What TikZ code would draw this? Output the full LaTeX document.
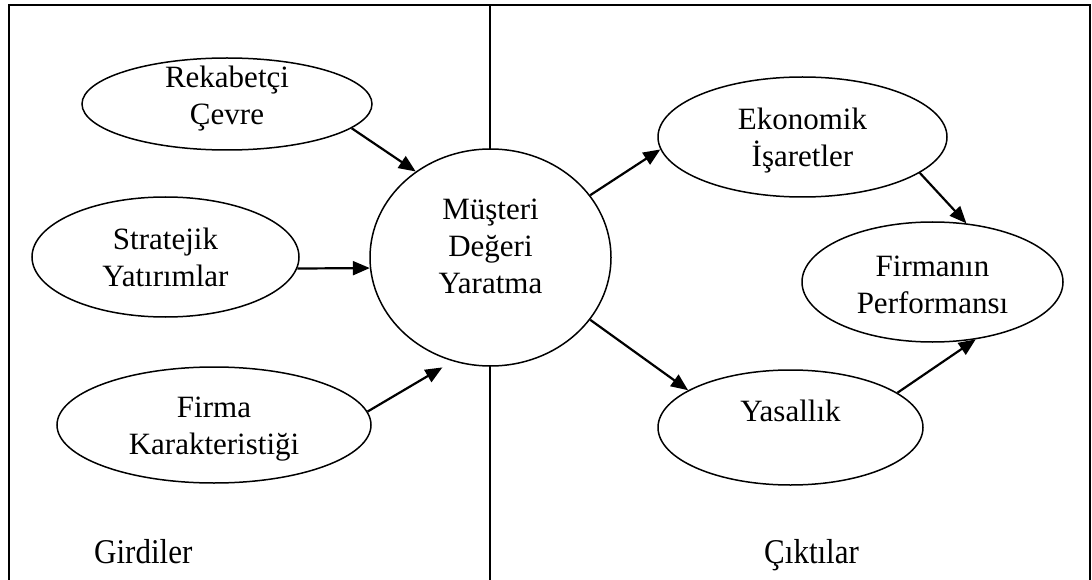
\documentclass[tikz,border=0pt]{standalone}
\usepackage{fontspec}
\usepackage{graphicx}
\setmainfont{Liberation Serif}
\usetikzlibrary{shapes.geometric,arrows.meta}
\begin{document}
\begin{tikzpicture}[x=1pt,y=-1pt,
  bubble/.style={ellipse,draw,line width=1.5pt,fill=white,inner sep=0pt},
  txt/.style={align=center,inner sep=0pt,font=\fontsize{31}{37}\selectfont},
  flow/.style={-{Triangle[length=17pt,width=14pt]},line width=2.2pt},
  frame/.style={line width=2.4pt},
  divider/.style={line width=1.2pt},
  caption/.style={font=\fontsize{31}{37}\selectfont,inner sep=0pt,anchor=base west}]
\useasboundingbox (0,0) rectangle (1092,580);

% outer frame, open at the bottom, and the dividing line between the two halves
\coordinate (tl) at (9,5);
\coordinate (tr) at (1090,5);
\coordinate (bl) at (9,580);
\coordinate (br) at (1090,580);
\coordinate (dtop) at (490,5);
\coordinate (dbot) at (490,580);
\draw[frame] (bl) -- (tl) -- (tr) -- (br);
\draw[divider] (dtop) -- (dbot);

% inputs
\node[bubble,minimum width=290pt,minimum height=92pt] (rek) at (227,104) {};
\node[bubble,minimum width=267pt,minimum height=120pt] (str) at (165.5,257) {};
\node[bubble,minimum width=314pt,minimum height=116pt] (fir) at (214,425) {};
% centre
\node[bubble,minimum width=241pt,minimum height=217pt] (mdy) at (490.5,257.5) {};
% outputs
\node[bubble,minimum width=289pt,minimum height=120pt] (eko) at (802.5,137) {};
\node[bubble,minimum width=261pt,minimum height=120pt] (prf) at (932.5,282) {};
\node[bubble,minimum width=265pt,minimum height=115pt] (yas) at (790.5,427.5) {};

% texts inside the bubbles
\node[txt] (rek-t) at ([yshift=5pt]rek.center) {Rekabetçi\\Çevre};
\node[txt] (str-t) at ([yshift=0pt]str.center) {Stratejik\\Yatırımlar};
\node[txt] (fir-t) at ([yshift=-4.5pt]fir.center) {Firma\\Karakteristiği};
\node[txt] (mdy-t) at ([yshift=11pt]mdy.center) {Müşteri\\Değeri\\Yaratma};
\node[txt] (eko-t) at ([yshift=-3.5pt]eko.center) {Ekonomik\\İşaretler};
\node[txt] (prf-t) at ([yshift=-2.5pt]prf.center) {Firmanın\\Performansı};
\node[txt] (yas-t) at ([yshift=16.5pt]yas.center) {Yasallık};

% connectors
\draw[flow] (rek.-11) -- (mdy.131);
\draw[flow] (str.-5) -- (mdy.185);
\draw[flow,shorten >=12pt] (fir.5) -- (mdy.250);
\draw[flow] (mdy.32) -- (eko.185);
\draw[flow] (mdy.-32) -- (yas.160);
\draw[flow] (eko.-17) -- (prf.60);
\draw[flow] (yas.18) -- (prf.-53);

% section captions
\node[caption] (gir) at (94,563) {\scalebox{1}[1.12]{Girdiler}};
\node[caption] (cik) at (764,563) {\scalebox{1}[1.12]{Çıktılar}};
\end{tikzpicture}
\end{document}
